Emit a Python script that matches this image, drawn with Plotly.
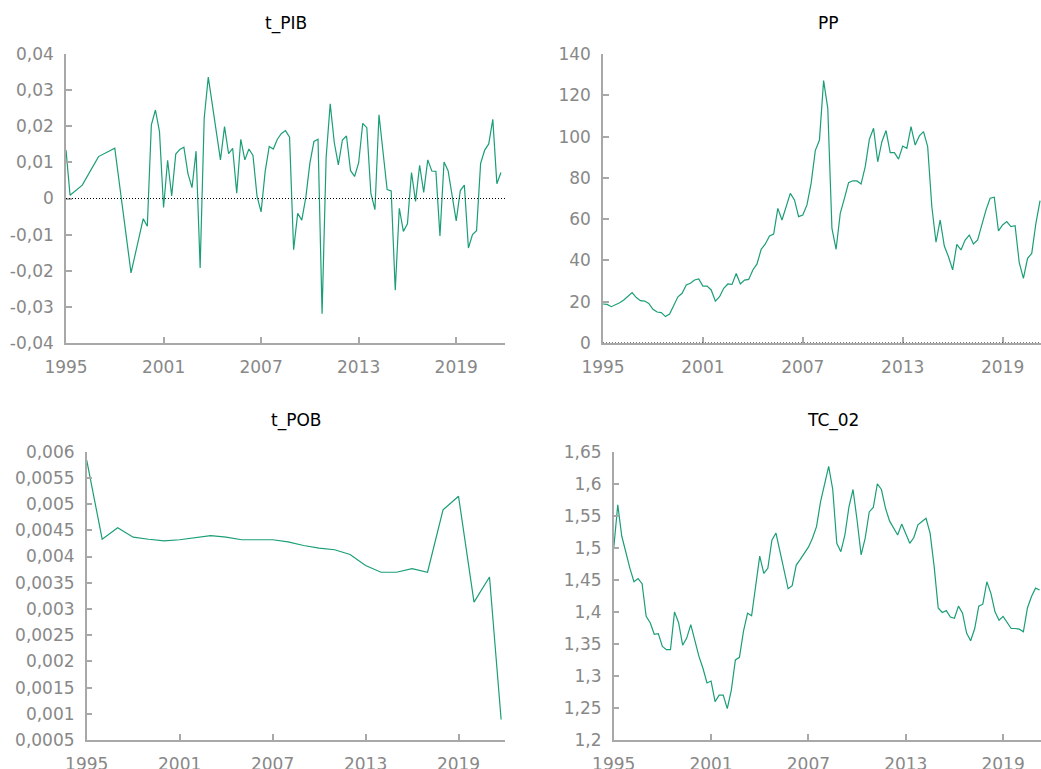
import plotly.graph_objects as go

# Figure fills the whole 1041x769 window; the body margin is removed by a small
# post script so that pixel positions match the screen one to one.
W, H = 1041, 769

# ---------------- data ----------------
pib_years = [1995.0, 1995.25, 1996.0, 1997.0, 1998.0, 1999.0, 1999.75, 2000.0,
             2000.25, 2000.5, 2000.75, 2001.0, 2001.25, 2001.5, 2001.75, 2002.0,
             2002.25, 2002.5, 2002.75, 2003.0, 2003.25, 2003.5, 2003.75, 2004.0,
             2004.5, 2004.75, 2005.0, 2005.25, 2005.5, 2005.75, 2006.0, 2006.25,
             2006.5, 2006.75, 2007.0, 2007.25, 2007.5, 2007.75, 2008.0, 2008.25,
             2008.5, 2008.75, 2009.0, 2009.25, 2009.5, 2009.75, 2010.0, 2010.25,
             2010.5, 2010.75, 2011.0, 2011.25, 2011.5, 2011.75, 2012.0, 2012.25,
             2012.5, 2012.75, 2013.0, 2013.25, 2013.5, 2013.75, 2014.0, 2014.25,
             2014.5, 2014.75, 2015.0, 2015.25, 2015.5, 2015.75, 2016.0, 2016.25,
             2016.5, 2016.75, 2017.0, 2017.25, 2017.5, 2017.75, 2018.0, 2018.25,
             2018.5, 2018.75, 2019.0, 2019.25, 2019.5, 2019.75, 2020.0, 2020.25,
             2020.5, 2020.75, 2021.0, 2021.25, 2021.5, 2021.75]
t_pib = [0.0134, 0.0009, 0.0037, 0.0116, 0.0139, -0.0206, -0.0056, -0.0077,
         0.0204, 0.0245, 0.0185, -0.0025, 0.0106, 0.0007, 0.0123, 0.0136,
         0.0142, 0.0069, 0.0030, 0.0131, -0.0192, 0.0222, 0.0336, 0.0264,
         0.0107, 0.0199, 0.0124, 0.0139, 0.0015, 0.0164, 0.0107, 0.0137,
         0.0119, 0.0006, -0.0037, 0.0075, 0.0144, 0.0137, 0.0164, 0.0180,
         0.0188, 0.0170, -0.0142, -0.0041, -0.0060, 0.0003, 0.0098, 0.0158,
         0.0164, -0.0319, 0.0114, 0.0262, 0.0155, 0.0093, 0.0162, 0.0173,
         0.0077, 0.0061, 0.0099, 0.0208, 0.0196, 0.0015, -0.0031, 0.0232,
         0.0122, 0.0025, 0.0021, -0.0254, -0.0027, -0.0091, -0.0070, 0.0072,
         -0.0008, 0.0092, 0.0017, 0.0107, 0.0076, 0.0075, -0.0104, 0.0101,
         0.0077, 0.0008, -0.0062, 0.0022, 0.0037, -0.0137, -0.0100, -0.0089,
         0.0097, 0.0134, 0.0151, 0.0219, 0.0041, 0.0072]

pp = [18.9, 18.7, 17.6, 18.4, 19.5, 20.8, 22.4, 24.4,
      22.0, 20.5, 20.3, 19.2, 16.3, 15.0, 14.7, 12.8,
      14.0, 18.4, 22.4, 24.1, 28.1, 28.9, 30.5, 31.0,
      27.6, 27.6, 25.7, 20.3, 22.4, 26.5, 28.6, 28.4,
      33.7, 28.6, 30.5, 30.8, 35.4, 38.3, 45.4, 48.0,
      51.8, 52.8, 65.2, 59.6, 66.0, 72.5, 69.3, 61.2,
      62.0, 66.9, 77.3, 93.2, 98.3, 127.1, 113.7, 55.5,
      45.4, 62.8, 70.1, 77.7, 78.6, 78.5, 77.0, 85.4,
      98.7, 104.0, 87.8, 97.5, 102.9, 92.2, 92.2, 89.1,
      95.4, 94.3, 104.8, 95.9, 100.3, 102.4, 95.1, 66.0,
      48.8, 59.6, 47.0, 41.8, 35.4, 47.8, 45.1, 49.9,
      52.3, 48.0, 49.9, 57.6, 64.4, 70.1, 70.6, 54.3,
      57.2, 58.8, 56.4, 56.8, 38.9, 31.3, 41.0, 43.4,
      58.0, 69.0]
pp_years = [1995 + q / 4 for q in range(len(pp))]

pob_years = [1995, 1996, 1997, 1998, 1999, 2000, 2001, 2002, 2003, 2004,
             2005, 2006, 2007, 2008, 2009, 2010, 2011, 2012, 2013, 2014,
             2015, 2016, 2017, 2018, 2019, 2020, 2021, 2021.75]
t_pob = [0.00584, 0.00433, 0.00455, 0.00437, 0.00433, 0.00430, 0.00432,
         0.00436, 0.00440, 0.00437, 0.00432, 0.00432, 0.00432, 0.00428,
         0.00421, 0.00416, 0.00413, 0.00404, 0.00383, 0.00370, 0.00370,
         0.00377, 0.00370, 0.00489, 0.00515, 0.00313, 0.00361, 0.00089]

tc02 = [1.499, 1.567, 1.518, 1.491, 1.468, 1.447, 1.452, 1.444,
        1.393, 1.383, 1.365, 1.366, 1.346, 1.341, 1.341, 1.400,
        1.383, 1.348, 1.359, 1.380, 1.356, 1.331, 1.312, 1.289,
        1.292, 1.260, 1.270, 1.270, 1.249, 1.278, 1.325, 1.329,
        1.370, 1.398, 1.394, 1.445, 1.487, 1.460, 1.468, 1.512,
        1.523, 1.494, 1.465, 1.436, 1.441, 1.473, 1.482, 1.491,
        1.501, 1.515, 1.533, 1.572, 1.598, 1.627, 1.591, 1.507,
        1.494, 1.520, 1.564, 1.591, 1.543, 1.489, 1.515, 1.556,
        1.563, 1.600, 1.591, 1.562, 1.542, 1.530, 1.520, 1.537,
        1.523, 1.507, 1.516, 1.536, 1.541, 1.546, 1.523, 1.471,
        1.406, 1.399, 1.402, 1.392, 1.390, 1.409, 1.398, 1.367,
        1.355, 1.374, 1.409, 1.412, 1.447, 1.429, 1.400, 1.387,
        1.393, 1.383, 1.374, 1.374, 1.373, 1.369, 1.406, 1.424,
        1.437, 1.434]
tc02_years = [1995 + q / 4 for q in range(len(tc02))]

x_ticks = [1995, 2001, 2007, 2013, 2019]
x_ticktext = ["1995", "2001", "2007", "2013", "2019"]

pib_ticks = [-0.04, -0.03, -0.02, -0.01, 0, 0.01, 0.02, 0.03, 0.04]
pib_ticktext = ["-0,04", "-0,03", "-0,02", "-0,01", "0", "0,01", "0,02", "0,03", "0,04"]
pp_ticks = [0, 20, 40, 60, 80, 100, 120, 140]
pp_ticktext = ["0", "20", "40", "60", "80", "100", "120", "140"]
pob_ticks = [0.0005, 0.001, 0.0015, 0.002, 0.0025, 0.003, 0.0035, 0.004,
             0.0045, 0.005, 0.0055, 0.006]
pob_ticktext = ["0,0005", "0,001", "0,0015", "0,002", "0,0025", "0,003",
                "0,0035", "0,004", "0,0045", "0,005", "0,0055", "0,006"]
tc_ticks = [1.2, 1.25, 1.3, 1.35, 1.4, 1.45, 1.5, 1.55, 1.6, 1.65]
tc_ticktext = ["1,2", "1,25", "1,3", "1,35", "1,4", "1,45", "1,5", "1,55", "1,6", "1,65"]

titles = ["t_PIB", "PP", "t_POB", "TC_02"]

# ---------------- styling ----------------
LINE_COLOR = "#1b9e77"
AXIS_COLOR = "#a8a8a8"
TICK_FONT = dict(family="DejaVu Sans", size=17, color="#888888")
TITLE_FONT = dict(family="DejaVu Sans", size=17, color="#000000")


def px(v):
    return v / W


def py(v):
    return 1 - v / H


fig = go.Figure()

series = [
    (pib_years, t_pib, "x", "y"),
    (pp_years, pp, "x2", "y2"),
    (pob_years, t_pob, "x3", "y3"),
    (tc02_years, tc02, "x4", "y4"),
]
for xs, ys, xa, ya in series:
    fig.add_trace(go.Scatter(x=xs, y=ys, mode="lines", xaxis=xa, yaxis=ya,
                             line=dict(color=LINE_COLOR, width=1.2),
                             showlegend=False, hoverinfo="skip"))


def xaxis_cfg(domain, rng, anchor):
    return dict(domain=domain, range=rng, anchor=anchor, showgrid=False,
                zeroline=False, showline=True, linecolor=AXIS_COLOR, linewidth=1.5,
                ticks="inside", ticklen=6, tickwidth=1.5, tickcolor=AXIS_COLOR,
                tickvals=x_ticks, ticktext=x_ticktext, tickfont=TICK_FONT,
                ticklabelstandoff=8, automargin=False, fixedrange=True)


def yaxis_cfg(domain, rng, anchor, tv, tt):
    return dict(domain=domain, range=rng, anchor=anchor, showgrid=False,
                zeroline=False, showline=True, linecolor=AXIS_COLOR, linewidth=1.5,
                ticks="inside", ticklen=6, tickwidth=1.5, tickcolor=AXIS_COLOR,
                tickvals=tv, ticktext=tt, tickfont=TICK_FONT,
                ticklabelstandoff=7, automargin=False, fixedrange=True)


top_y = [py(343), py(54)]
bot_y = [py(740), py(451.7)]

fig.update_layout(
    width=W, height=H,
    margin=dict(l=0, r=0, t=0, b=0),
    paper_bgcolor="white", plot_bgcolor="white",
    separators=", ",
    xaxis=xaxis_cfg([px(66), px(505)], [1995, 2022], "y"),
    yaxis=yaxis_cfg(top_y, [-0.04, 0.04], "x", pib_ticks, pib_ticktext),
    xaxis2=xaxis_cfg([px(603), 1.0], [1995, 1995 + (1041 - 603) / 16.65], "y2"),
    yaxis2=yaxis_cfg(top_y, [0, 140], "x2", pp_ticks, pp_ticktext),
    xaxis3=xaxis_cfg([px(86.7), px(505)], [1995, 2022], "y3"),
    yaxis3=yaxis_cfg(bot_y, [0.0005, 0.006], "x3", pob_ticks, pob_ticktext),
    xaxis4=xaxis_cfg([px(613.7), 1.0], [1995, 1995 + (1041 - 613.7) / 16.225], "y4"),
    yaxis4=yaxis_cfg(bot_y, [1.2, 1.65], "x4", tc_ticks, tc_ticktext),
)

# dotted zero lines
for xa, ya, x1 in [("x", "y", 2022), ("x2", "y2", 2023)]:
    fig.add_shape(type="line", xref=xa, yref=ya, x0=1995, x1=x1, y0=0, y1=0,
                  line=dict(color="black", width=1, dash="1px,2px"), layer="above")

title_pos = [(285.5, 23), (828, 23), (295.8, 420), (832.5, 420)]
for t, (tx, ty) in zip(titles, title_pos):
    fig.add_annotation(text=t, x=px(tx), y=py(ty), xref="paper", yref="paper",
                       xanchor="center", yanchor="middle", showarrow=False,
                       font=TITLE_FONT)

fig.write_html(
    "out.html",
    config={"displayModeBar": False},
    post_script="document.body.style.margin='0';"
                "document.documentElement.style.overflow='hidden';"
                "document.body.style.overflow='hidden';",
)
